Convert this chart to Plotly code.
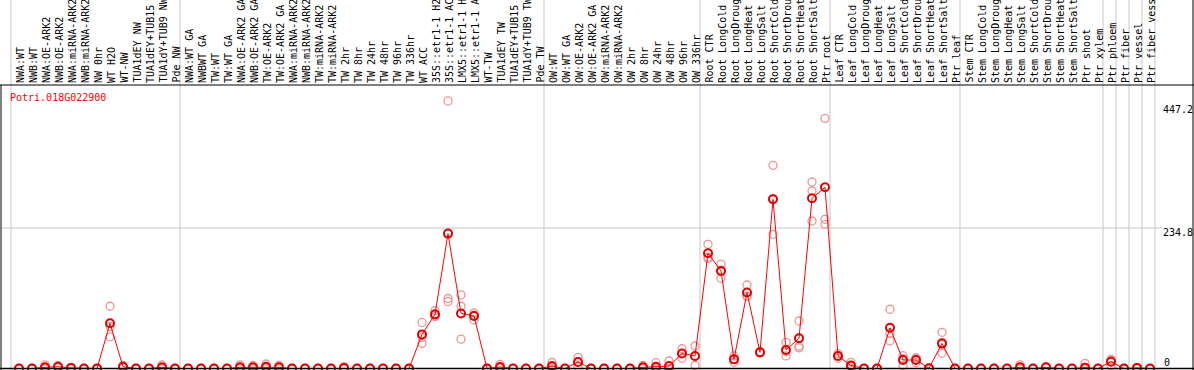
import plotly.graph_objects as go

# ---------------- data ----------------
categories = [
    "NWA:WT", "NWB:WT", "NWA:OE-ARK2", "NWB:OE-ARK2", "NWA:miRNA-ARK2", "NWB:miRNA-ARK2",
    "NW 0hr", "WT H2O", "WT-NW", "TUA1dEY NW", "TUA1dEY+TUB15", "TUA1dY+TUB9 NW", "Pde NW",
    "NWA:WT GA", "NWBWT GA", "TW:WT", "TW:WT GA", "NWA:OE-ARK2 GA", "NWB:OE-ARK2 GA",
    "TW:OE-ARK2", "TW:OE-ARK2 GA", "NWA:miRNA-ARK2", "NWB:miRNA-ARK2", "TW:miRNA-ARK2",
    "TW:miRNA-ARK2", "TW 2hr", "TW 8hr", "TW 24hr", "TW 48hr", "TW 96hr", "TW 336hr",
    "WT ACC", "35S::etr1-1 H2", "35S::etr1-1 AC", "LMX5::etr1-1 H", "LMX5::etr1-1 A",
    "WT-TW", "TUA1dEY TW", "TUA1dEY+TUB15", "TUA1dY+TUB9 TW", "Pde TW",
    "OW:WT", "OW:WT GA", "OW:OE-ARK2", "OW:OE-ARK2 GA", "OW:miRNA-ARK2", "OW:miRNA-ARK2",
    "OW 2hr", "OW 8hr", "OW 24hr", "OW 48hr", "OW 96hr", "OW 336hr",
    "Root CTR", "Root LongCold", "Root LongDroug", "Root LongHeat", "Root LongSalt",
    "Root ShortCold", "Root ShortDrou", "Root ShortHeat", "Root ShortSalt", "Ptr root",
    "Leaf CTR", "Leaf LongCold", "Leaf LongDroug", "Leaf LongHeat", "Leaf LongSalt",
    "Leaf ShortCold", "Leaf ShortDrou", "Leaf ShortHeat", "Leaf ShortSalt", "Ptr leaf",
    "Stem CTR", "Stem LongCold", "Stem LongDroug", "Stem LongHeat", "Stem LongSalt",
    "Stem ShortCold", "Stem ShortDrou", "Stem ShortHeat", "Stem ShortSalt",
    "Ptr shoot", "Ptr xylem", "Ptr phloem", "Ptr fiber", "Ptr vessel", "Ptr fiber vess",
]

mean_values = [
    0, 0, 2, 3, 1, 0, 0, 75.5, 3, 0, 0, 2, 0,
    0, 0, 0, 0, 2, 2, 3, 2, 0, 0, 0, 0, 1, 0, 0, 0, 0, 0,
    57, 90.5, 225.4, 92, 87.7, 0, 2.5, 0, 0, 0,
    4, 0, 11, 0, 0, 0, 0, 2, 3, 4, 25, 21,
    192.5, 163, 15.3, 127, 27, 282.7, 31, 50.5, 284.4, 302.8,
    21, 5, 0, 0, 68, 14.2, 14.2, 0.3, 42, 0,
    0, 0, 0, 0, 2, 0, 2, 0, 0,
    1.4, 0, 11.4, 0, 1, 0,
]

rep_a = [
    0, 0, 6, 5, 2, 0, 0, 104, 5, 0, 0, 6, 0,
    0, 0, 0, 0, 6, 5, 7.5, 5, 0, 0, 0, 0, 3, 0, 0, 0, 0, 0,
    77, 96.6, 447.2, 123, 93, 0, 7, 0, 0, 0,
    10, 0, 18.7, 0, 0, 0, 0, 5, 9.7, 12.5, 33, 37.6,
    207.5, 174, 21, 139.5, 28, 339.5, 43.8, 79.4, 311.7, 418,
    25, 10.4, 0, 0, 99, 21.4, 18, 0.5, 60.5, 0,
    0, 0, 0, 0, 6, 0, 3, 0, 0,
    8.7, 0, 15.4, 0, 2, 0,
]

rep_b = [
    0, 0, 0, 3, 1, 0, 0, 70, 3, 0, 0, 0, 0,
    0, 0, 0, 0, 0, 1, 1, 1, 0, 0, 0, 0, 0, 0, 0, 0, 0, 0,
    52, 88, 117, 104, 89, 0, 0.5, 0, 0, 0,
    2, 0, 11, 0, 0, 0, 0, 1, 0, 0, 25, 20,
    184, 164, 15, 121, 27, 284, 28, 37.6, 296.6, 249.3,
    21, 4, 0, 0, 59, 16.5, 15, 0.3, 40, 0,
    0, 0, 0, 0, 0, 0, 2, 0, 0,
    0, 0, 14, 0, 1, 0,
]

rep_c = [
    0, 0, 0, 1, 0, 0, 0, 53, 1, 0, 0, 0, 0,
    0, 0, 0, 0, 0, 0, 0, 0, 0, 0, 0, 0, 0, 0, 0, 0, 0, 0,
    42, 86.6, 112, 49, 81, 0, 0, 0, 0, 0,
    0, 0, 3, 0, 0, 0, 0, 0, 0, 0, 17, 5,
    186, 150.7, 10.4, 120.5, 26, 224.3, 21, 34.5, 246.5, 241,
    17, 0.6, 0, 0, 46, 4.7, 9.7, 0, 25.4, 0,
    0, 0, 0, 0, 0, 0, 1, 0, 0,
    0, 0, 4.7, 0, 0, 0,
]

gene_id = "Potri.018G022900"
ytick_values = [447.2, 234.8, 0]
ytick_labels = ["447.2", "234.8", "0"]
# index of last category in each sample group (vertical separators after them)
group_ends = [-1, 12, 40, 52, 62, 72, 83, 84, 85, 86, 87]

# ---------------- layout geometry ----------------
W, H = 1194, 370
L_PX, R_PX, T_PX = 1, 1193, 85
X0_PX, STEP = 19, 13          # pixel of first category and spacing
ZERO_PX, PX_PER_UNIT = 368.5, 0.5984

x = list(range(len(categories)))
x_range = [(L_PX - X0_PX) / STEP, (R_PX - X0_PX) / STEP]
y_range = [-(H - ZERO_PX) / PX_PER_UNIT, (ZERO_PX - T_PX) / PX_PER_UNIT]
plot_h = H - T_PX
top_paper = 1 + T_PX / plot_h


def px_to_paper_x(px):
    return (px - L_PX) / (R_PX - L_PX)


def px_to_paper_y(py):
    return 1 - (py - T_PX) / plot_h


MONO = "DejaVu Sans Mono"
fig = go.Figure()

pale = "#f09494"
for rep in (rep_a, rep_b, rep_c):
    fig.add_trace(go.Scatter(
        x=x, y=rep, mode="markers", hoverinfo="skip",
        marker=dict(symbol="circle-open", size=8, color=pale, line=dict(width=1.3, color=pale)),
    ))

fig.add_trace(go.Scatter(
    x=x, y=mean_values, mode="lines+markers",
    line=dict(color="#ff0000", width=1),
    marker=dict(symbol="circle-open", size=8, color="#e00000", line=dict(width=2, color="#e00000")),
))

shapes = []
# grey separators spanning full height (plot + label area)
for g in group_ends:
    px = X0_PX + STEP * g + 5
    xp = px_to_paper_x(px)
    shapes.append(dict(type="line", xref="paper", yref="paper", x0=xp, x1=xp, y0=0, y1=top_paper,
                       line=dict(color="#c8c8c8", width=1), layer="below"))
# horizontal grey gridline at the middle tick
shapes.append(dict(type="line", xref="paper", yref="y", x0=0, x1=px_to_paper_x(1162),
                   y0=ytick_values[1], y1=ytick_values[1],
                   line=dict(color="#c8c8c8", width=1), layer="below"))
# black frame lines
shapes.append(dict(type="line", xref="paper", yref="paper", x0=px_to_paper_x(0), x1=px_to_paper_x(W),
                   y0=1, y1=1, line=dict(color="black", width=1)))
shapes.append(dict(type="line", xref="paper", yref="paper", x0=0, x1=0, y0=0, y1=1,
                   line=dict(color="black", width=1)))
shapes.append(dict(type="line", xref="paper", yref="paper", x0=1, x1=1, y0=0, y1=top_paper,
                   line=dict(color="black", width=1)))
shapes.append(dict(type="line", xref="paper", yref="y", x0=px_to_paper_x(0), x1=px_to_paper_x(W),
                   y0=0, y1=0, line=dict(color="black", width=1.5)))

annotations = []
for i, lab in enumerate(categories):
    annotations.append(dict(
        x=i, xref="x", y=1, yref="paper", text=lab, showarrow=False,
        textangle=-90, xanchor="center", yanchor="bottom", xshift=1, yshift=1,
        borderpad=0, font=dict(family=MONO, size=10, color="black"),
    ))

annotations.append(dict(
    x=px_to_paper_x(9), xref="paper", y=px_to_paper_y(97), yref="paper", text=gene_id,
    showarrow=False, xanchor="left", yanchor="middle", borderpad=0,
    font=dict(family=MONO, size=10, color="#ff0000"),
))

label_centers_px = [109, 232.5, 362]
label_left_px = [1162, 1162, 1163]
for val, txt, cy, lx in zip(ytick_values, ytick_labels, label_centers_px, label_left_px):
    annotations.append(dict(
        x=px_to_paper_x(lx), xref="paper", y=px_to_paper_y(cy), yref="paper", text=txt,
        showarrow=False, xanchor="left", yanchor="middle", borderpad=0,
        font=dict(family=MONO, size=10, color="black"),
    ))

fig.update_layout(
    width=W, height=H,
    margin=dict(l=L_PX, r=W - R_PX, t=T_PX, b=0, pad=0),
    paper_bgcolor="white", plot_bgcolor="white",
    showlegend=False,
    xaxis=dict(range=x_range, showgrid=False, zeroline=False, showticklabels=False,
               ticks="", showline=False, fixedrange=True),
    yaxis=dict(range=y_range, showgrid=False, zeroline=False, showticklabels=False,
               ticks="", showline=False, fixedrange=True),
    shapes=shapes,
    annotations=annotations,
)

fig.write_html(
    "out.html",
    config={"displayModeBar": False},
    post_script="document.body.style.margin='0';document.body.style.padding='0';"
                "document.body.style.overflow='hidden';",
)
